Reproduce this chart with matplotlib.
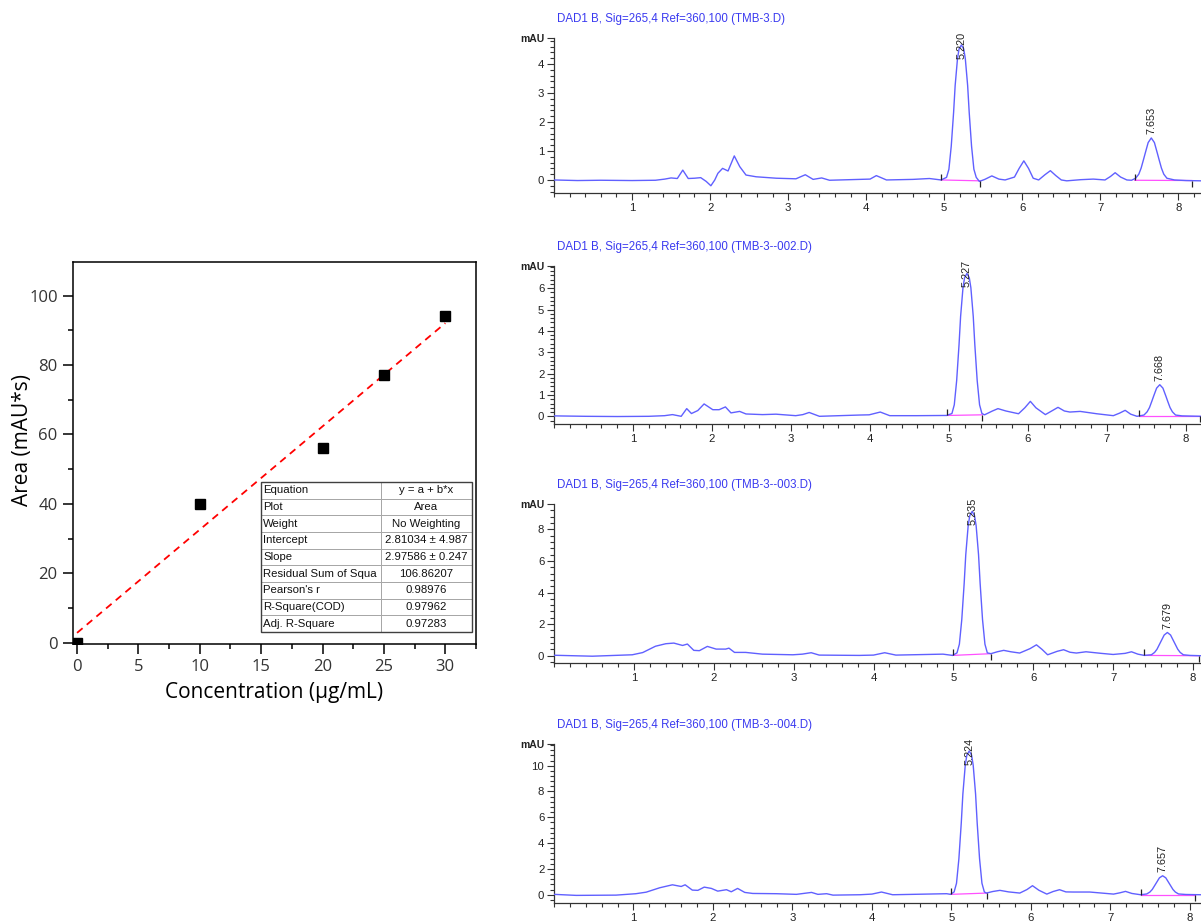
import matplotlib
matplotlib.use("Agg")
import matplotlib.pyplot as plt
from matplotlib.ticker import MultipleLocator, FixedLocator
from matplotlib.path import Path
from matplotlib.patches import Rectangle

# calibration data
conc = [0, 10, 20, 25, 30]
area = [0, 40, 56, 77, 94]
intercept = 2.81034
slope = 2.97586

fit_rows = [
    ["Equation", "y = a + b*x"],
    ["Plot", "Area"],
    ["Weight", "No Weighting"],
    ["Intercept", "2.81034 \u00b1 4.987"],
    ["Slope", "2.97586 \u00b1 0.247"],
    ["Residual Sum of Squa", "106.86207"],
    ["Pearson's r", "0.98976"],
    ["R-Square(COD)", "0.97962"],
    ["Adj. R-Square", "0.97283"],
]

# chromatograms: time (min) and signal (mAU)
t1 = [0.00, 0.30, 0.60, 1.00, 1.30, 1.42, 1.50, 1.58, 1.65, 1.72, 1.80, 1.88, 1.95, 2.01, 2.06,
      2.10, 2.16, 2.23, 2.31, 2.38, 2.46, 2.59, 2.85, 3.10, 3.22, 3.32, 3.43, 3.53, 3.92, 4.05,
      4.13, 4.26, 4.60, 4.81, 4.96,
      5.03, 5.06, 5.09, 5.12, 5.14, 5.17, 5.19, 5.22, 5.25, 5.27, 5.30, 5.32, 5.35, 5.38, 5.41,
      5.45, 5.52, 5.61, 5.70, 5.78, 5.90, 5.96, 6.02, 6.08, 6.14, 6.21, 6.29, 6.36, 6.43, 6.50,
      6.57, 6.75, 6.91, 7.06, 7.13, 7.19, 7.26, 7.34, 7.40,
      7.453, 7.493, 7.523, 7.553, 7.573, 7.613, 7.653, 7.693, 7.733, 7.753, 7.783, 7.813, 7.853,
      7.95, 8.10, 8.29]
y1 = [0.00, -0.02, -0.01, -0.02, -0.01, 0.03, 0.07, 0.05, 0.34, 0.05, 0.06, 0.08, -0.05, -0.20, 0.00,
      0.23, 0.40, 0.31, 0.83, 0.46, 0.17, 0.11, 0.06, 0.04, 0.18, 0.02, 0.07, -0.01, 0.02, 0.03,
      0.15, 0.00, 0.02, 0.05, 0.00,
      0.09, 0.37, 1.17, 2.33, 3.26, 4.19, 4.52, 4.66, 4.52, 4.19, 3.26, 2.33, 1.17, 0.37, 0.09,
      -0.05, 0.02, 0.14, 0.03, 0.00, 0.10, 0.40, 0.66, 0.40, 0.06, 0.00, 0.18, 0.32, 0.15, 0.00,
      -0.03, 0.01, 0.03, 0.00, 0.12, 0.25, 0.10, 0.00, -0.01,
      0.06, 0.20, 0.41, 0.70, 0.90, 1.29, 1.45, 1.29, 0.90, 0.70, 0.41, 0.20, 0.06,
      0.00, -0.02, -0.03]

t2 = [0.00, 0.40, 0.80, 1.20, 1.40, 1.50, 1.61, 1.68, 1.74, 1.82, 1.90, 2.01, 2.09, 2.17, 2.24,
      2.35, 2.43, 2.64, 2.81, 3.06, 3.15, 3.23, 3.36, 3.61, 3.87, 3.99, 4.13, 4.25, 4.59, 4.97,
      5.037, 5.067, 5.097, 5.127, 5.147, 5.177, 5.197, 5.227, 5.257, 5.277, 5.307, 5.327, 5.357,
      5.387, 5.417,
      5.45, 5.55, 5.62, 5.72, 5.88, 5.96, 6.03, 6.10, 6.22, 6.30, 6.38, 6.46, 6.53, 6.66, 6.87,
      7.08, 7.16, 7.23, 7.30, 7.38,
      7.468, 7.508, 7.538, 7.568, 7.588, 7.628, 7.668, 7.708, 7.748, 7.768, 7.798, 7.828, 7.868,
      7.95, 8.19]
y2 = [0.02, 0.00, -0.01, 0.00, 0.03, 0.08, 0.00, 0.36, 0.13, 0.27, 0.58, 0.31, 0.31, 0.44, 0.16,
      0.23, 0.11, 0.08, 0.10, 0.03, 0.08, 0.18, 0.00, 0.03, 0.06, 0.07, 0.20, 0.03, 0.03, 0.04,
      0.13, 0.54, 1.67, 3.35, 4.68, 6.02, 6.49, 6.69, 6.49, 6.02, 4.68, 3.35, 1.67,
      0.54, 0.13,
      0.07, 0.25, 0.36, 0.25, 0.12, 0.40, 0.70, 0.40, 0.08, 0.25, 0.42, 0.25, 0.20, 0.23, 0.12,
      0.03, 0.15, 0.28, 0.10, 0.00,
      0.06, 0.21, 0.41, 0.71, 0.92, 1.32, 1.48, 1.32, 0.92, 0.71, 0.41, 0.21, 0.06,
      0.02, 0.00]

t3 = [0.00, 0.48, 0.98, 1.11, 1.27, 1.40, 1.50, 1.61, 1.67, 1.75, 1.82, 1.92, 2.03, 2.15, 2.19,
      2.26, 2.40, 2.61, 2.99, 3.11, 3.22, 3.32, 3.82, 4.00, 4.14, 4.28, 4.87, 4.99,
      5.045, 5.075, 5.105, 5.135, 5.155, 5.185, 5.205, 5.235, 5.265, 5.285, 5.315, 5.335, 5.365,
      5.395, 5.425,
      5.47, 5.55, 5.63, 5.72, 5.83, 5.96, 6.04, 6.11, 6.18, 6.30, 6.38, 6.46, 6.54, 6.66, 6.85,
      7.00, 7.15, 7.23, 7.31, 7.39,
      7.479, 7.519, 7.549, 7.579, 7.599, 7.639, 7.679, 7.719, 7.759, 7.779, 7.809, 7.839, 7.879,
      7.96, 8.10]
y3 = [0.03, -0.03, 0.06, 0.20, 0.60, 0.76, 0.80, 0.65, 0.74, 0.34, 0.32, 0.59, 0.42, 0.42, 0.48,
      0.21, 0.21, 0.10, 0.06, 0.10, 0.19, 0.04, 0.02, 0.04, 0.19, 0.04, 0.10, 0.02,
      0.18, 0.73, 2.28, 4.57, 6.39, 8.22, 8.86, 9.13, 8.86, 8.22, 6.39, 4.57, 2.28,
      0.73, 0.18,
      0.13, 0.25, 0.34, 0.25, 0.17, 0.45, 0.69, 0.40, 0.06, 0.28, 0.38, 0.22, 0.17, 0.25, 0.15,
      0.08, 0.15, 0.25, 0.10, 0.02,
      0.06, 0.21, 0.41, 0.71, 0.91, 1.31, 1.47, 1.31, 0.91, 0.71, 0.41, 0.21, 0.06,
      0.02, 0.00]

t4 = [0.00, 0.28, 0.78, 1.03, 1.16, 1.33, 1.49, 1.60, 1.65, 1.74, 1.81, 1.89, 1.98, 2.06, 2.17,
      2.23, 2.31, 2.40, 2.50, 2.80, 3.05, 3.24, 3.32, 3.43, 3.51, 3.85, 4.00, 4.12, 4.26, 4.94,
      4.99,
      5.034, 5.064, 5.094, 5.124, 5.144, 5.174, 5.194, 5.224, 5.254, 5.274, 5.304, 5.324, 5.354,
      5.384, 5.414,
      5.44, 5.52, 5.61, 5.72, 5.86, 5.95, 6.02, 6.10, 6.20, 6.28, 6.36, 6.44, 6.53, 6.74, 7.04,
      7.12, 7.19, 7.27, 7.38,
      7.457, 7.497, 7.527, 7.557, 7.577, 7.617, 7.657, 7.697, 7.737, 7.757, 7.787, 7.817, 7.857,
      7.95, 8.14]
y4 = [0.03, -0.05, -0.03, 0.08, 0.20, 0.54, 0.77, 0.64, 0.77, 0.36, 0.34, 0.59, 0.49, 0.28, 0.39,
      0.23, 0.49, 0.18, 0.10, 0.08, 0.03, 0.18, 0.03, 0.08, -0.03, 0.00, 0.05, 0.21, 0.00, 0.08,
      0.03,
      0.22, 0.89, 2.79, 5.57, 7.80, 10.03, 10.81, 11.14, 10.81, 10.03, 7.80, 5.57, 2.79,
      0.89, 0.22,
      0.13, 0.25, 0.34, 0.22, 0.13, 0.40, 0.70, 0.35, 0.05, 0.25, 0.39, 0.22, 0.21, 0.21, 0.05,
      0.15, 0.26, 0.10, 0.00,
      0.06, 0.21, 0.41, 0.71, 0.91, 1.31, 1.47, 1.31, 0.91, 0.71, 0.41, 0.21, 0.06,
      0.02, 0.00]

titles = [
    "DAD1 B, Sig=265,4 Ref=360,100 (TMB-3.D)",
    "DAD1 B, Sig=265,4 Ref=360,100 (TMB-3--002.D)",
    "DAD1 B, Sig=265,4 Ref=360,100 (TMB-3--003.D)",
    "DAD1 B, Sig=265,4 Ref=360,100 (TMB-3--004.D)",
]
# retention time / apex height of the two integrated peaks
rt_main = [5.220, 5.227, 5.235, 5.224]
h_main = [4.66, 6.69, 9.13, 11.14]
rt_second = [7.653, 7.668, 7.679, 7.657]
h_second = [1.45, 1.48, 1.47, 1.47]
# integration baselines: (start t, start y, end t, end y)
base_main = [(4.96, 0.00, 5.46, -0.03), (4.98, 0.04, 5.42, 0.07),
             (4.99, 0.02, 5.47, 0.13), (4.99, 0.03, 5.45, 0.13)]
base_second = [(7.44, -0.01, 8.17, -0.02), (7.40, 0.00, 8.18, 0.00),
               (7.39, 0.02, 8.07, 0.00), (7.39, 0.00, 8.07, 0.00)]

y_top = [4.90, 7.04, 9.60, 11.68]
y_bottom = [-0.45, -0.36, -0.46, -0.64]
y_major = [[0, 1, 2, 3, 4], [0, 1, 2, 3, 4, 5, 6], [0, 2, 4, 6, 8], [0, 2, 4, 6, 8, 10]]
y_minor = [0.2, 0.2, 0.4, 0.4]
x_right = [8.29, 8.19, 8.10, 8.14]

traces = [(t1, y1), (t2, y2), (t3, y3), (t4, y4)]
# pixel rows (top, bottom) of each chromatogram frame
panel_rows = [(38, 193), (266, 424), (504, 663), (744, 903)]

W, H = 1201, 921
TICK_UP = Path([(0, 0), (0, 1)])
TICK_DOWN = Path([(0, 0), (0, -1)])


def draw_calibration(fig):
    ax = fig.add_axes([73 / W, (H - 644) / H, 403 / W, 382 / H])
    x_fit = [0, 30]
    y_fit = [intercept + slope * x for x in x_fit]
    ax.plot(x_fit, y_fit, color='red', lw=1.3, dashes=(4, 3), zorder=2)
    ax.plot(conc, area, 's', color='black', ms=7.8, zorder=3)
    ax.set_xlim(-0.33, 32.5)
    ax.set_ylim(-0.4, 109.7)
    ax.xaxis.set_major_locator(FixedLocator([0, 5, 10, 15, 20, 25, 30]))
    ax.xaxis.set_minor_locator(FixedLocator([2.5, 7.5, 12.5, 17.5, 22.5, 27.5, 32.5]))
    ax.yaxis.set_major_locator(FixedLocator([0, 20, 40, 60, 80, 100]))
    ax.yaxis.set_minor_locator(FixedLocator([10, 30, 50, 70, 90]))
    ax.tick_params(which='both', direction='out', width=1.1, top=False, right=False)
    ax.tick_params(which='major', length=7, pad=4, labelsize=12, labelcolor='#333333')
    ax.tick_params(which='minor', length=3.8)
    for sp in ax.spines.values():
        sp.set_linewidth(1.1)
    for lab in ax.get_xticklabels() + ax.get_yticklabels():
        lab.set_fontfamily('Open Sans')
    ax.set_xlabel("Concentration (\u03bcg/mL)", fontsize=15, fontfamily='Open Sans', labelpad=5)
    ax.set_ylabel("Area (mAU*s)", fontsize=15, fontfamily='Open Sans')
    ax.yaxis.set_label_coords(-0.1, 0.534)

    tab = ax.table(cellText=fit_rows, colWidths=[0.569, 0.431],
                   bbox=[(261 - 73) / 403, (644 - 632) / 382, 211 / 403, 150 / 382],
                   zorder=4)
    tab.auto_set_font_size(False)
    for (r, c), cell in tab.get_celld().items():
        cell.set_edgecolor('#a6a6a6')
        cell.set_linewidth(0.7)
        cell.set_facecolor('white')
        cell.PAD = 0.02
        cell.get_text().set_fontsize(8.2)
        cell.get_text().set_fontfamily('Liberation Sans')
        cell.get_text().set_color('#111111')
        cell.set_text_props(ha='left' if c == 0 else 'center')
    ax.add_patch(Rectangle(((261 - 73) / 403, (644 - 632) / 382), 211 / 403, 150 / 382,
                           transform=ax.transAxes, fill=False, edgecolor='#404040',
                           lw=1.0, zorder=5))


def draw_chromatogram(fig, i):
    top, bottom = panel_rows[i]
    ax = fig.add_axes([554 / W, (H - bottom) / H, (W - 554) / W, (bottom - top) / H])
    t, y = traces[i]
    ax.plot(t, y, color='#6060ff', lw=1.0, zorder=3)

    for (ts, ys, te, ye) in (base_main[i], base_second[i]):
        ax.plot([ts, te], [ys, ye], color='#ff50ff', lw=0.9, zorder=2)
        ax.plot([ts], [ys], marker=TICK_UP, ms=9, color='#222222', mew=0.9, zorder=4)
        ax.plot([te], [ye], marker=TICK_DOWN, ms=9, color='#222222', mew=0.9, zorder=4)

    ax.annotate("%.3f" % rt_main[i], xy=(rt_main[i], h_main[i]), rotation=90,
                ha='center', va='center', fontsize=7.8, color='#222222',
                fontfamily='Liberation Sans', annotation_clip=False, zorder=5)
    ax.annotate("%.3f" % rt_second[i], xy=(rt_second[i], h_second[i]), xytext=(0, 2.5),
                textcoords='offset points', rotation=90, ha='center', va='bottom',
                fontsize=7.8, color='#222222', fontfamily='Liberation Sans',
                annotation_clip=False, zorder=5)

    ax.set_xlim(0, x_right[i])
    ax.set_ylim(y_bottom[i], y_top[i])
    ax.spines['top'].set_visible(False)
    ax.spines['right'].set_visible(False)
    for side in ('left', 'bottom'):
        ax.spines[side].set_color('#333333')
        ax.spines[side].set_linewidth(0.9)

    ax.xaxis.set_major_locator(FixedLocator([1, 2, 3, 4, 5, 6, 7, 8]))
    ax.xaxis.set_minor_locator(MultipleLocator(0.2))
    ticks = y_major[i] + [y_top[i]]
    ax.yaxis.set_major_locator(FixedLocator(ticks))
    ax.set_yticklabels([str(v) for v in y_major[i]] + ["mAU"])
    ax.yaxis.set_minor_locator(MultipleLocator(y_minor[i]))
    ax.tick_params(which='both', direction='out', width=0.8, color='#333333')
    ax.tick_params(which='major', length=5, pad=2, labelsize=8.2, labelcolor='#222222')
    ax.tick_params(which='minor', length=3)
    for lab in ax.get_xticklabels() + ax.get_yticklabels():
        lab.set_fontfamily('Liberation Sans')
    ax.get_yticklabels()[-1].set_fontsize(7.5)
    ax.get_yticklabels()[-1].set_fontweight('bold')

    ax.annotate(titles[i], xy=(0, 1), xycoords='axes fraction', xytext=(2, 14),
                textcoords='offset points', ha='left', va='center', fontsize=8.3,
                color='#3a3af0', fontfamily='Liberation Sans', annotation_clip=False)


def main():
    fig = plt.figure(figsize=(W / 100, H / 100), dpi=100)
    fig.patch.set_facecolor('white')
    draw_calibration(fig)
    for i in range(4):
        draw_chromatogram(fig, i)
    fig.savefig("out.png", dpi=100, facecolor='white')


if __name__ == "__main__":
    main()
